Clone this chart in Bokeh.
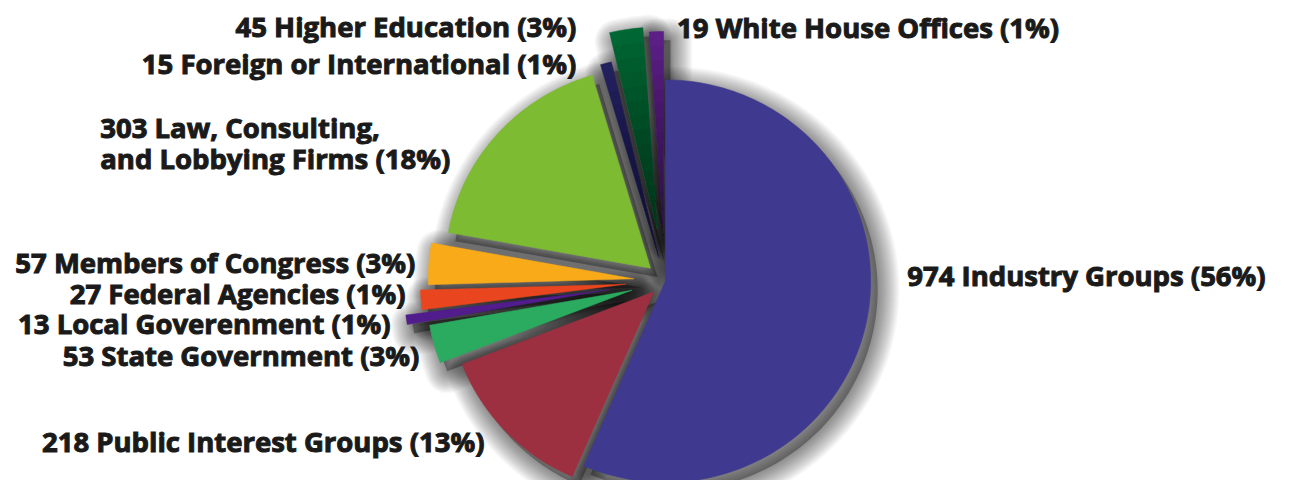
import numpy as np
from bokeh.plotting import figure
from bokeh.models import ColumnDataSource, Text
from bokeh.core.properties import value
from bokeh.embed import file_html
from bokeh.resources import INLINE

# ---- data (clockwise from 12 o'clock) ----
categories = ["Industry Groups", "Public Interest Groups", "State Government",
              "Local Goverenment", "Federal Agencies", "Members of Congress",
              "Law, Consulting, and Lobbying Firms", "Foreign or International",
              "Higher Education", "White House Offices"]
counts = [974, 218, 53, 13, 27, 57, 303, 15, 45, 19]
percent_labels = ["56%", "13%", "3%", "1%", "1%", "3%", "18%", "1%", "3%", "1%"]
colors = ["#3f3a8f", "#9c3041", "#2bab5f", "#511d8c", "#e9461f",
          "#f9aa19", "#7dbb33", "#23205e", "#006633", "#5b1f86"]
label_texts = ["974 Industry Groups (56%)", "218 Public Interest Groups (13%)",
               "53 State Government (3%)", "13 Local Goverenment (1%)",
               "27 Federal Agencies (1%)", "57 Members of Congress (3%)",
               "303 Law, Consulting,\nand Lobbying Firms (18%)",
               "15 Foreign or International (1%)", "45 Higher Education (3%)",
               "19 White House Offices (1%)"]

# ---- layout (reference pixel coordinates, y downward) ----
CX, CY, R = 673, 290, 208
explode = [0, 16, 35, 57, 40, 32, 20, 25, 55, 50]
gradient = [False] * 7 + [True, True, True]
label_pos = [(918, 284, "left"), (490, 456, "right"), (424, 367, "right"),
             (395, 334, "right"), (410, 303, "right"), (420, 271, "right"),
             (101, 147, "left"), (583, 65, "right"), (583, 27, "right"),
             (685, 28, "left")]
W, H = 1305, 496


def to_y(yref):
    return H - yref


vals = np.array(counts, dtype=float)
frac = vals / vals.sum()
ends = np.cumsum(frac) * 2 * np.pi
starts = ends - frac * 2 * np.pi


def slice_poly(t1, t2, off, rad, dx=0.0, dy=0.0):
    mid = 0.5 * (t1 + t2)
    ax = CX + off * np.sin(mid) + dx
    ay = CY - off * np.cos(mid) + dy
    n = max(4, int(np.degrees(t2 - t1) / 1.5) + 2)
    th = np.linspace(t1, t2, n)
    xs = [ax] + list(ax + rad * np.sin(th))
    ys = [ay] + list(ay - rad * np.cos(th))
    return xs, [to_y(v) for v in ys]


p = figure(width=1289, height=480, x_range=(0, W), y_range=(0, H),
           output_backend="svg", toolbar_location=None, min_border=0)
p.axis.visible = False
p.grid.visible = False
p.outline_line_color = None
p.background_fill_color = "white"

# ---- soft drop shadow (offset down-right) ----
sh_x, sh_y = [], []
for i in range(len(counts)):
    xs, ys = slice_poly(starts[i], ends[i], explode[i], R, dx=7, dy=9)
    sh_x.append(xs)
    sh_y.append(ys)
p.patches(sh_x, sh_y, fill_color="black", fill_alpha=0.3, line_alpha=0)
for w in range(44, 1, -2):
    p.patches(sh_x, sh_y, fill_alpha=0, line_color="black", line_alpha=0.022,
              line_width=w, line_join="round")

# ---- slices ----
sx, sy = [], []
for i in range(len(counts)):
    xs, ys = slice_poly(starts[i], ends[i], explode[i], R)
    sx.append(xs)
    sy.append(ys)
src = ColumnDataSource(dict(xs=sx, ys=sy, color=colors, name=categories,
                            pct=percent_labels))
p.patches("xs", "ys", source=src, fill_color="color", line_color="color",
          line_width=0.5)

# inner darkening gradient on the thin top slices
for i in range(len(counts)):
    if not gradient[i]:
        continue
    for k in range(1, 13):
        xs, ys = slice_poly(starts[i], ends[i], explode[i], R * (1 - k / 14.0))
        p.patch(xs, ys, fill_color="black", fill_alpha=0.045, line_alpha=0)

# ---- labels ----
has_outline = "text_outline_color" in Text.properties()
for txt, (lx, ly, al) in zip(label_texts, label_pos):
    lines = txt.split("\n")
    for j, ln in enumerate(lines):
        yy = ly + (j - (len(lines) - 1) / 2) * 32
        kw = dict(x=[lx], y=[to_y(yy)], text=[ln], text_font=value("Open Sans"),
                  text_font_style="bold", text_font_size="27.5px", text_align=al,
                  text_baseline="middle", text_color="#1a1a1a")
        if has_outline:
            kw["text_outline_color"] = "#1a1a1a"
        p.text(**kw)

open("out.html", "w").write(file_html(p, INLINE))
